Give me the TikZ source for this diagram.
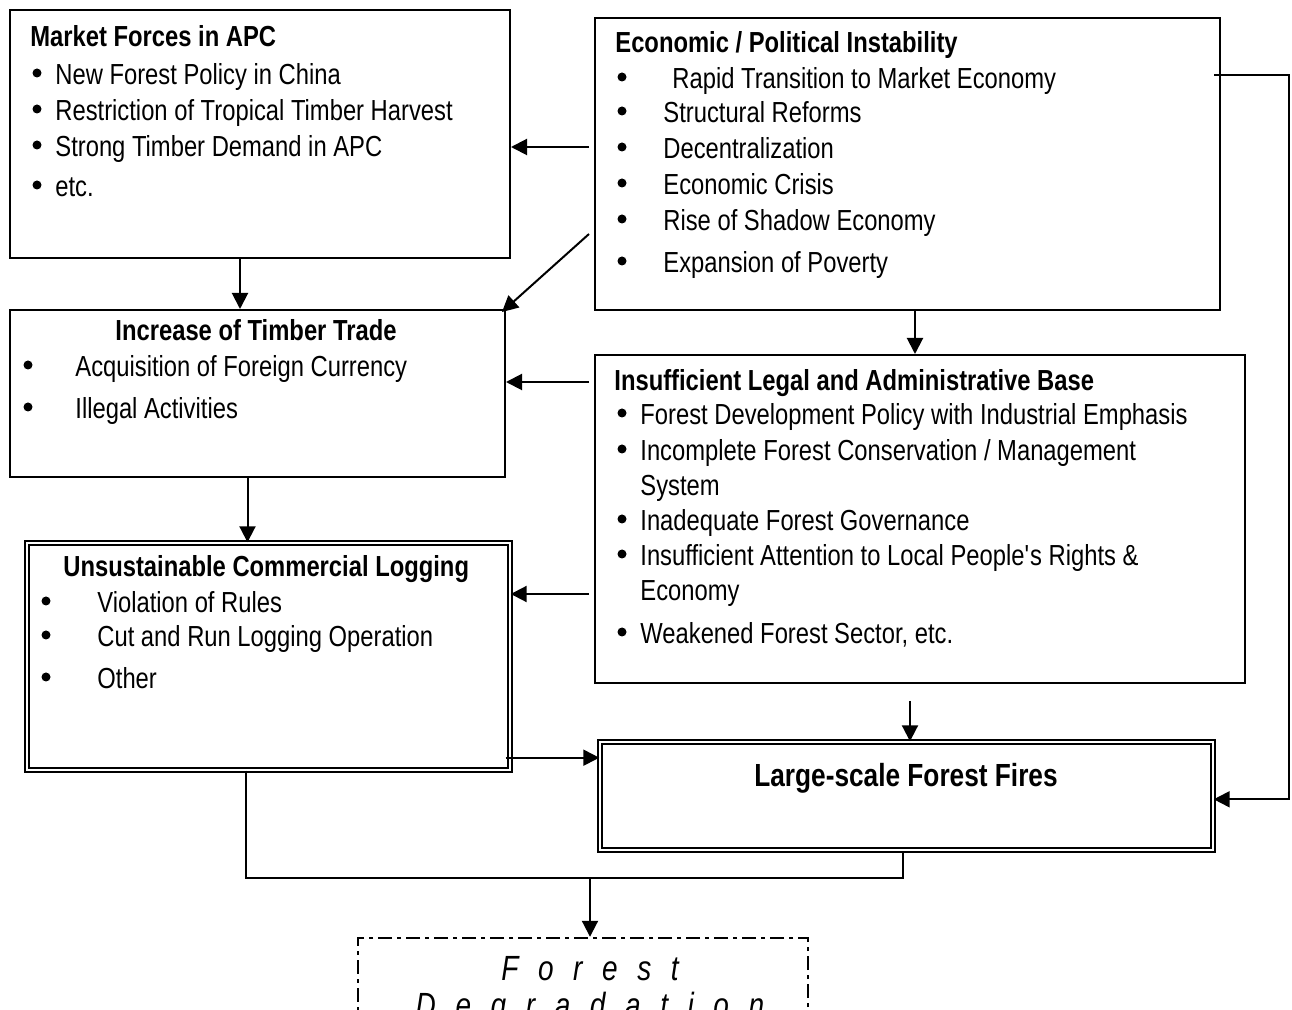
\documentclass[tikz,border=0pt]{standalone}
\usepackage{fontspec}
\setmainfont[FakeStretch=0.82]{Liberation Sans}
\newfontfamily\degrfont[FakeStretch=0.8,LetterSpace=56]{Liberation Sans}
\usetikzlibrary{arrows.meta,fit}
\tikzset{
  box/.style = {
    draw, line width=1pt, inner sep=0pt
  },
  doublebox/.style = {
    draw, double, line width=0.7pt, double distance=1.4pt, inner sep=0pt
  },
  dashbox/.style = {
    draw, line width=1.2pt, inner sep=0pt,
    dash pattern=on 7pt off 2.5pt on 2pt off 2.5pt
  },
  link/.style = {
    line width=1pt,
    -{Triangle[length=8pt,width=8pt]}
  },
  plain/.style = {
    line width=1pt
  },
  titletext/.style = {
    anchor=base west, inner sep=0pt,
    font={\fontsize{14.5}{17}\selectfont\bfseries}
  },
  itemtext/.style = {
    anchor=base west, inner sep=0pt,
    font={\fontsize{14.5}{17}\selectfont}
  },
  bulletdot/.style = {
    circle, fill, inner sep=0pt, minimum size=4.5pt, yshift=6pt
  },
  degrtext/.style = {
    anchor=base, inner sep=0pt,
    font={\fontsize{17.5}{20}\selectfont\degrfont\itshape}
  },
}

\begin{document}
\begin{tikzpicture}[x=0.5pt, y=-0.5pt]
  \useasboundingbox (0,0) rectangle (1292,1010);

  % boxes
  \node[box, fit={(10,10) (510,258)}] (mkt) {};
  \node[box, fit={(595,18) (1220,310)}] (econ) {};
  \node[box, fit={(10,310) (505,477)}] (trade) {};
  \node[box, fit={(595,355) (1245,683)}] (legal) {};
  \node[doublebox, fit={(27,543) (510,770)}] (log) {};
  \node[doublebox, fit={(600,742) (1213,850)}] (fires) {};
  \node[dashbox, fit={(358,938) (808,1080)}] (degr) {};

  % market forces
  \node[titletext] (mkt-title) at (30,47) {Market Forces in APC};
  \foreach \ypos/\txt in {
    85/New Forest Policy in China,
    121/Restriction of Tropical Timber Harvest,
    157/Strong Timber Demand in APC,
    197/etc.
  } {
    \node[bulletdot] (mkt-dot\ypos) at (37,\ypos) {};
    \node[itemtext] (mkt-item\ypos) at (55,\ypos) {\txt};
  }

  % economic / political instability
  \node[titletext] (econ-title) at (615,53) {Economic / Political Instability};
  \foreach \xpos/\ypos/\txt in {
    672/89/Rapid Transition to Market Economy,
    663/123/Structural Reforms,
    663/159/Decentralization,
    663/195/Economic Crisis,
    663/231/Rise of Shadow Economy,
    663/273/Expansion of Poverty
  } {
    \node[bulletdot] (econ-dot\ypos) at (622,\ypos) {};
    \node[itemtext] (econ-item\ypos) at (\xpos,\ypos) {\txt};
  }

  % timber trade
  \node[titletext, anchor=base] (trade-title) at (256,341) {Increase of Timber Trade};
  \foreach \ypos/\txt in {
    377/Acquisition of Foreign Currency,
    419/Illegal Activities
  } {
    \node[bulletdot] (trade-dot\ypos) at (28,\ypos) {};
    \node[itemtext] (trade-item\ypos) at (75,\ypos) {\txt};
  }

  % legal base
  \node[titletext] (legal-title) at (614,391) {Insufficient Legal and Administrative Base};
  \foreach \ypos/\txt in {
    425/Forest Development Policy with Industrial Emphasis,
    461/{Incomplete Forest Conservation / Management},
    531/Inadequate Forest Governance,
    566/Insufficient Attention to Local People\textquotesingle s Rights \&,
    644/{Weakened Forest Sector, etc.}
  } {
    \node[bulletdot] (legal-dot\ypos) at (622,\ypos) {};
    \node[itemtext] (legal-item\ypos) at (640,\ypos) {\txt};
  }
  \node[itemtext] (legal-system) at (640,496) {System};
  \node[itemtext] (legal-economy) at (640,601) {Economy};

  % logging
  \node[titletext] (log-title) at (63,577) {Unsustainable Commercial Logging};
  \foreach \ypos/\txt in {
    613/Violation of Rules,
    647/Cut and Run Logging Operation,
    689/Other
  } {
    \node[bulletdot] (log-dot\ypos) at (46,\ypos) {};
    \node[itemtext] (log-item\ypos) at (97,\ypos) {\txt};
  }

  % fires and degradation
  \node[titletext, anchor=base, font={\fontsize{16}{19}\selectfont\bfseries}] (fires-title) at (906,786) {Large-scale Forest Fires};
  \node[degrtext] (degr-top) at (590,980) {Forest};
  \node[degrtext] (degr-bottom) at (590,1017) {Degradation};

  % connectors
  \draw[link] ([shift={(-5,130)}]econ.north west) coordinate (s1) -- (s1 -| mkt.east);
  \draw[link] ([shift={(-5,217)}]econ.north west) -- ([shift={(-4,3)}]trade.north east);
  \draw[link] ([xshift=-10pt]mkt.south) -- ([xshift=-10pt]mkt.south |- trade.north);
  \draw[link] ([xshift=-2.5pt]legal.north |- econ.south) -- ([xshift=-2.5pt]legal.north);
  \draw[link] ([shift={(-5,28)}]legal.north west) coordinate (s5) -- (s5 -| trade.east);
  \draw[link] ([xshift=-5pt]trade.south) -- ([xshift=-5pt]trade.south |- log.north);
  \draw[link] ([shift={(-5,240)}]legal.north west) coordinate (s7) -- (s7 -| log.east);
  \draw[link] ([shift={(-10,17)}]legal.south) coordinate (s8) -- (s8 |- fires.north);
  \draw[link] ([shift={(-5,-13)}]log.south east) coordinate (s9) -- (s9 -| fires.west);
  \draw[link] ([shift={(-7,58)}]econ.north east) -- ++(75,0) |- ([yshift=-29pt]fires.north east);

  \coordinate (join) at (590,878);
  \draw[plain] ([xshift=-11.25pt]log.south) |- (join) -| ([xshift=-1.75pt]fires.south);
  \draw[link] (join) -- (join |- degr.north);

\end{tikzpicture}
\end{document}
